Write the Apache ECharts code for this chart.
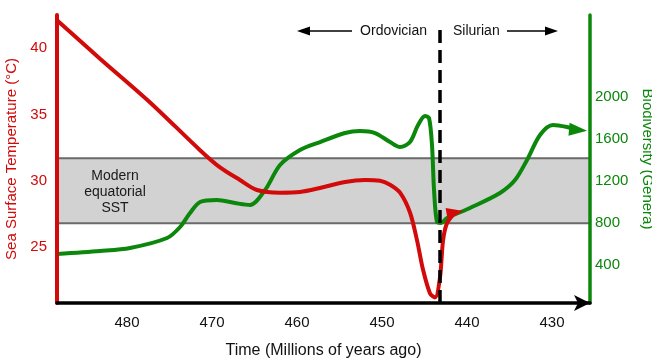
<!DOCTYPE html>
<html>
<head>
<meta charset="utf-8">
<script src="https://cdn.jsdelivr.net/npm/echarts@6/dist/echarts.min.js"></script>
<style>
html,body{margin:0;padding:0;background:#fff;}
#chart{width:652px;height:358px;}
</style>
</head>
<body>
<div id="chart"></div>
<script>
// ---- data (time in millions of years ago) ----
var tempTime = [488.24, 483.18, 477.29, 471.41, 469.06, 466.71, 464.71, 462.0, 459.65, 457.29, 454.35, 452.0, 450.24, 449.06, 447.88, 446.71, 445.88, 445.18, 444.35, 443.76, 443.18, 442.82, 442.35, 441.41];
var tempValues = [42.1, 39.2, 35.9, 32.3, 31.0, 30.05, 29.3, 29.1, 29.15, 29.45, 29.9, 30.05, 30.0, 29.7, 29.1, 27.6, 25.5, 23.3, 21.5, 21.2, 22.7, 25.5, 26.8, 27.6];

var bioTime = [488.24, 483.18, 479.65, 475.29, 473.76, 472.59, 471.41, 469.41, 467.29, 465.53, 463.76, 462.0, 459.65, 457.29, 454.35, 452.59, 450.82, 449.06, 447.88, 446.71, 445.76, 444.94, 444.47, 444.12, 443.88, 443.53, 443.06, 442.35, 439.65, 436.12, 434.35, 432.94, 431.41, 429.88, 428.24, 426.94];
var bioValues = [505, 533, 562, 657, 762, 895, 1000, 1019, 990, 971, 1114, 1352, 1495, 1571, 1657, 1676, 1657, 1571, 1524, 1571, 1733, 1819, 1800, 1543, 1114, 809, 800, 847, 943, 1086, 1209, 1400, 1638, 1733, 1714, 1686];

var timeTicks = [480, 470, 460, 450, 440, 430];
var tempTicks = [25, 30, 35, 40];
var bioTicks = [400, 800, 1200, 1600, 2000];

var modernSST = [26.8, 31.7];      // modern equatorial SST band (°C)
var boundaryTime = 443.2;          // Ordovician / Silurian boundary
var boundaryTop = 41.8;            // top of boundary line (°C scale)

var timeRange = [425.53, 488.24];
var tempRange = [20.78, 42.49];
var bioRange = [38, 2781];

var FONT = "'Liberation Sans', Arial, Helvetica, sans-serif";
var RED = '#d20a0a';
var GREEN = '#0b870b';

function pairs(xs, ys, arrowRotate, arrowSize) {
  return xs.map(function (x, i) {
    var item = { value: [x, ys[i]] };
    if (i === xs.length - 1) {
      item.symbol = 'triangle';
      item.symbolRotate = arrowRotate;
      item.symbolSize = arrowSize;
    }
    return item;
  });
}

var chart = echarts.init(document.getElementById('chart'), null, { renderer: 'canvas' });

var option = {
  animation: false,
  textStyle: { fontFamily: FONT },
  grid: { left: 57, right: 62, top: 15, bottom: 55, containLabel: false, outerBoundsMode: 'none' },
  xAxis: {
    type: 'value',
    inverse: true,
    min: timeRange[0],
    max: timeRange[1],
    z: 10,
    name: 'Time (Millions of years ago)',
    nameLocation: 'middle',
    nameGap: 40,
    nameTextStyle: { color: '#111', fontSize: 16, fontFamily: FONT },
    axisLine: { show: true, lineStyle: { color: '#000', width: 3.5 }, symbol: ['none', 'arrow'], symbolSize: [12, 16] },
    axisTick: { show: false },
    splitLine: { show: false },
    axisLabel: { customValues: timeTicks, color: '#111', fontSize: 15, margin: 12, fontFamily: FONT,
      formatter: function (v) { return String(v); } }
  },
  yAxis: [
    {
      type: 'value',
      position: 'left',
      min: tempRange[0],
      max: tempRange[1],
      z: 10,
      name: 'Sea Surface Temperature (°C)',
      nameLocation: 'middle',
      nameGap: 34,
      nameRotate: 90,
      nameTextStyle: { color: RED, fontSize: 15, fontFamily: FONT },
      axisLine: { show: true, lineStyle: { color: RED, width: 4 } },
      axisTick: { show: false },
      splitLine: { show: false },
      axisLabel: { customValues: tempTicks, color: RED, fontSize: 15, margin: 10, fontFamily: FONT,
        formatter: function (v) { return String(v); } }
    },
    {
      type: 'value',
      position: 'right',
      min: bioRange[0],
      max: bioRange[1],
      z: 10,
      name: 'Biodiversity (Genera)',
      nameLocation: 'middle',
      nameGap: 44,
      nameRotate: -90,
      nameTextStyle: { color: GREEN, fontSize: 15, fontFamily: FONT },
      axisLine: { show: true, lineStyle: { color: GREEN, width: 3.5 } },
      axisTick: { show: false },
      splitLine: { show: false },
      axisLabel: { customValues: bioTicks, color: GREEN, fontSize: 15, margin: 5, fontFamily: FONT,
        formatter: function (v) { return String(v); } }
    }
  ],
  series: [
    {
      name: 'Biodiversity',
      type: 'line',
      yAxisIndex: 1,
      data: pairs(bioTime, bioValues, -95, [13, 18]),
      showSymbol: true,
      symbol: 'none',
      smooth: 0.3,
      lineStyle: { color: GREEN, width: 4 },
      itemStyle: { color: GREEN },
      z: 3,
      silent: true
    },
    {
      name: 'SST',
      type: 'line',
      yAxisIndex: 0,
      data: pairs(tempTime, tempValues, -80, [12, 17]),
      showSymbol: true,
      symbol: 'none',
      smooth: 0.3,
      lineStyle: { color: RED, width: 4 },
      itemStyle: { color: RED },
      z: 4,
      silent: true,
      markArea: {
        silent: true,
        itemStyle: { color: '#d2d2d2', borderColor: '#6a6a6a', borderWidth: 2 },
        data: [[{ yAxis: modernSST[0] }, { yAxis: modernSST[1] }]]
      },
      markLine: {
        silent: true,
        symbol: ['none', 'none'],
        label: { show: false },
        lineStyle: { color: '#000', width: 3.5, type: [13, 7] },
        data: [[{ coord: [boundaryTime, tempRange[0]] }, { coord: [boundaryTime, boundaryTop] }]]
      }
    }
  ],
  graphic: [
    { type: 'text', z: 5,
      style: { text: 'Modern\nequatorial\nSST', x: 115, y: 192, align: 'center', verticalAlign: 'middle', fill: '#1a1a1a', font: '14px ' + FONT, lineHeight: 16 } },
    { type: 'text', z: 5, style: { text: 'Ordovician', x: 427, y: 31, align: 'right', verticalAlign: 'middle', fill: '#111', font: '14px ' + FONT } },
    { type: 'text', z: 5, style: { text: 'Silurian', x: 453, y: 31, align: 'left', verticalAlign: 'middle', fill: '#111', font: '14px ' + FONT } },
    { type: 'line', z: 5, shape: { x1: 352, y1: 31, x2: 306, y2: 31 }, style: { stroke: '#000', lineWidth: 1.6 } },
    { type: 'polygon', z: 5, shape: { points: [[297, 31], [310, 26.5], [310, 35.5]] }, style: { fill: '#000' } },
    { type: 'line', z: 5, shape: { x1: 507, y1: 31, x2: 548, y2: 31 }, style: { stroke: '#000', lineWidth: 1.6 } },
    { type: 'polygon', z: 5, shape: { points: [[558, 31], [545, 26.5], [545, 35.5]] }, style: { fill: '#000' } }
  ]
};
chart.setOption(option);
</script>
</body>
</html>
